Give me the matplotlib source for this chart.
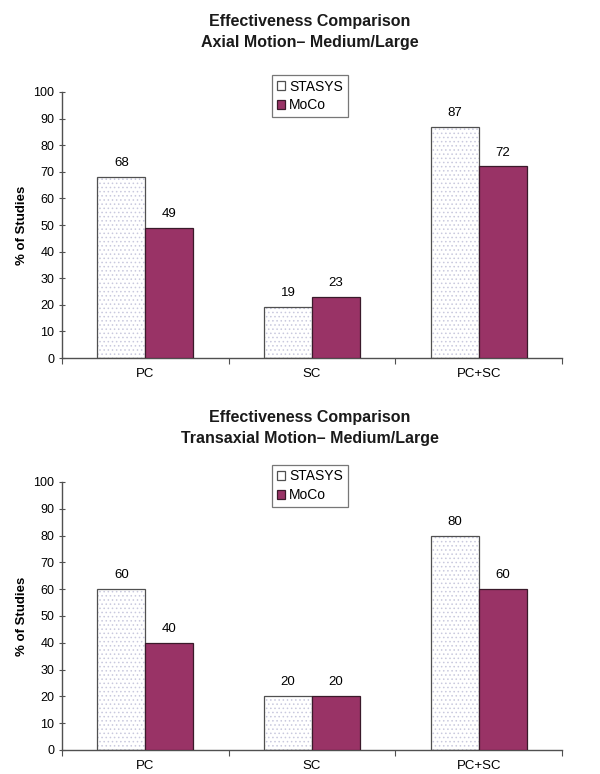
import numpy as np
import matplotlib
matplotlib.use("Agg")
import matplotlib.pyplot as plt

plt.rcParams['font.family'] = ['Liberation Sans', 'DejaVu Sans']
plt.rcParams['hatch.linewidth'] = 0.6

categories = ['PC', 'SC', 'PC+SC']
series_names = ['STASYS', 'MoCo']
axial_stasys = [68, 19, 87]
axial_moco = [49, 23, 72]
trans_stasys = [60, 20, 80]
trans_moco = [40, 20, 60]
yticks = list(range(0, 101, 10))

titles = ['Effectiveness Comparison\nAxial Motion\u2013 Medium/Large',
          'Effectiveness Comparison\nTransaxial Motion\u2013 Medium/Large']

moco_color = '#993366'
edge_color = '#505050'
dot_color = '#c9c9de'

W, H = 600, 774
fig = plt.figure(figsize=(W / 100, H / 100), dpi=100)
# axes boxes measured in pixels of the reference (left, top, right, bottom)
ax_top = fig.add_axes([62 / W, 1 - 358 / H, 500 / W, 266 / H])
ax_bot = fig.add_axes([62 / W, 1 - 750 / H, 500 / W, 268 / H])

def draw(ax, stasys, moco, title, title_y):
    x = np.arange(len(categories)) + 0.5
    w = 0.288
    # dotted fill for STASYS, then outline on top
    ax.bar(x - w / 2, stasys, w, color='white', hatch='....',
           edgecolor=dot_color, linewidth=0, zorder=2)
    b1 = ax.bar(x - w / 2, stasys, w, fill=False, edgecolor=edge_color,
                linewidth=0.9, zorder=3, label=series_names[0])
    b2 = ax.bar(x + w / 2, moco, w, color=moco_color, edgecolor='#3a1a2a',
                linewidth=0.9, zorder=3, label=series_names[1])
    for xi, v in zip(x - w / 2, stasys):
        ax.text(xi, v + 3.0, str(v), ha='center', va='bottom', fontsize=9.5)
    for xi, v in zip(x + w / 2, moco):
        ax.text(xi, v + 3.0, str(v), ha='center', va='bottom', fontsize=9.5)

    ax.set_xlim(0, len(categories))
    ax.set_ylim(0, 100)
    ax.set_yticks(yticks)
    ax.set_xticks(np.arange(len(categories) + 1))
    ax.set_xticklabels([])
    ax.set_xticks(x, minor=True)
    ax.set_xticklabels(categories, minor=True, fontsize=9.5)
    ax.tick_params(axis='x', which='minor', length=0, pad=7)
    ax.tick_params(axis='x', which='major', length=4, direction='out',
                   color=edge_color)
    ax.tick_params(axis='y', length=4, direction='inout', labelsize=9,
                   color=edge_color)
    for s in ['top', 'right']:
        ax.spines[s].set_visible(False)
    for s in ['left', 'bottom']:
        ax.spines[s].set_color(edge_color)
        ax.spines[s].set_linewidth(1.0)
    ax.set_ylabel('% of Studies', fontsize=9.5, fontweight='bold', labelpad=4)

    fig.text(310 / W, 1 - title_y / H, title, ha='center', va='center',
             fontsize=11.5, fontweight='bold', linespacing=1.55,
             color='#1a1a1a')

    leg = ax.legend([b1, b2], series_names, loc='upper left',
                    bbox_to_anchor=((272 - 62) / 500, 1.065), fontsize=10,
                    frameon=True, fancybox=False, edgecolor='#555555',
                    handlelength=0.6, handleheight=0.6, handletextpad=0.3,
                    borderpad=0.35, labelspacing=0.35, borderaxespad=0)
    leg.get_frame().set_linewidth(0.9)

draw(ax_top, axial_stasys, axial_moco, titles[0], 32)
draw(ax_bot, trans_stasys, trans_moco, titles[1], 428)

fig.savefig('out.png', dpi=100)
